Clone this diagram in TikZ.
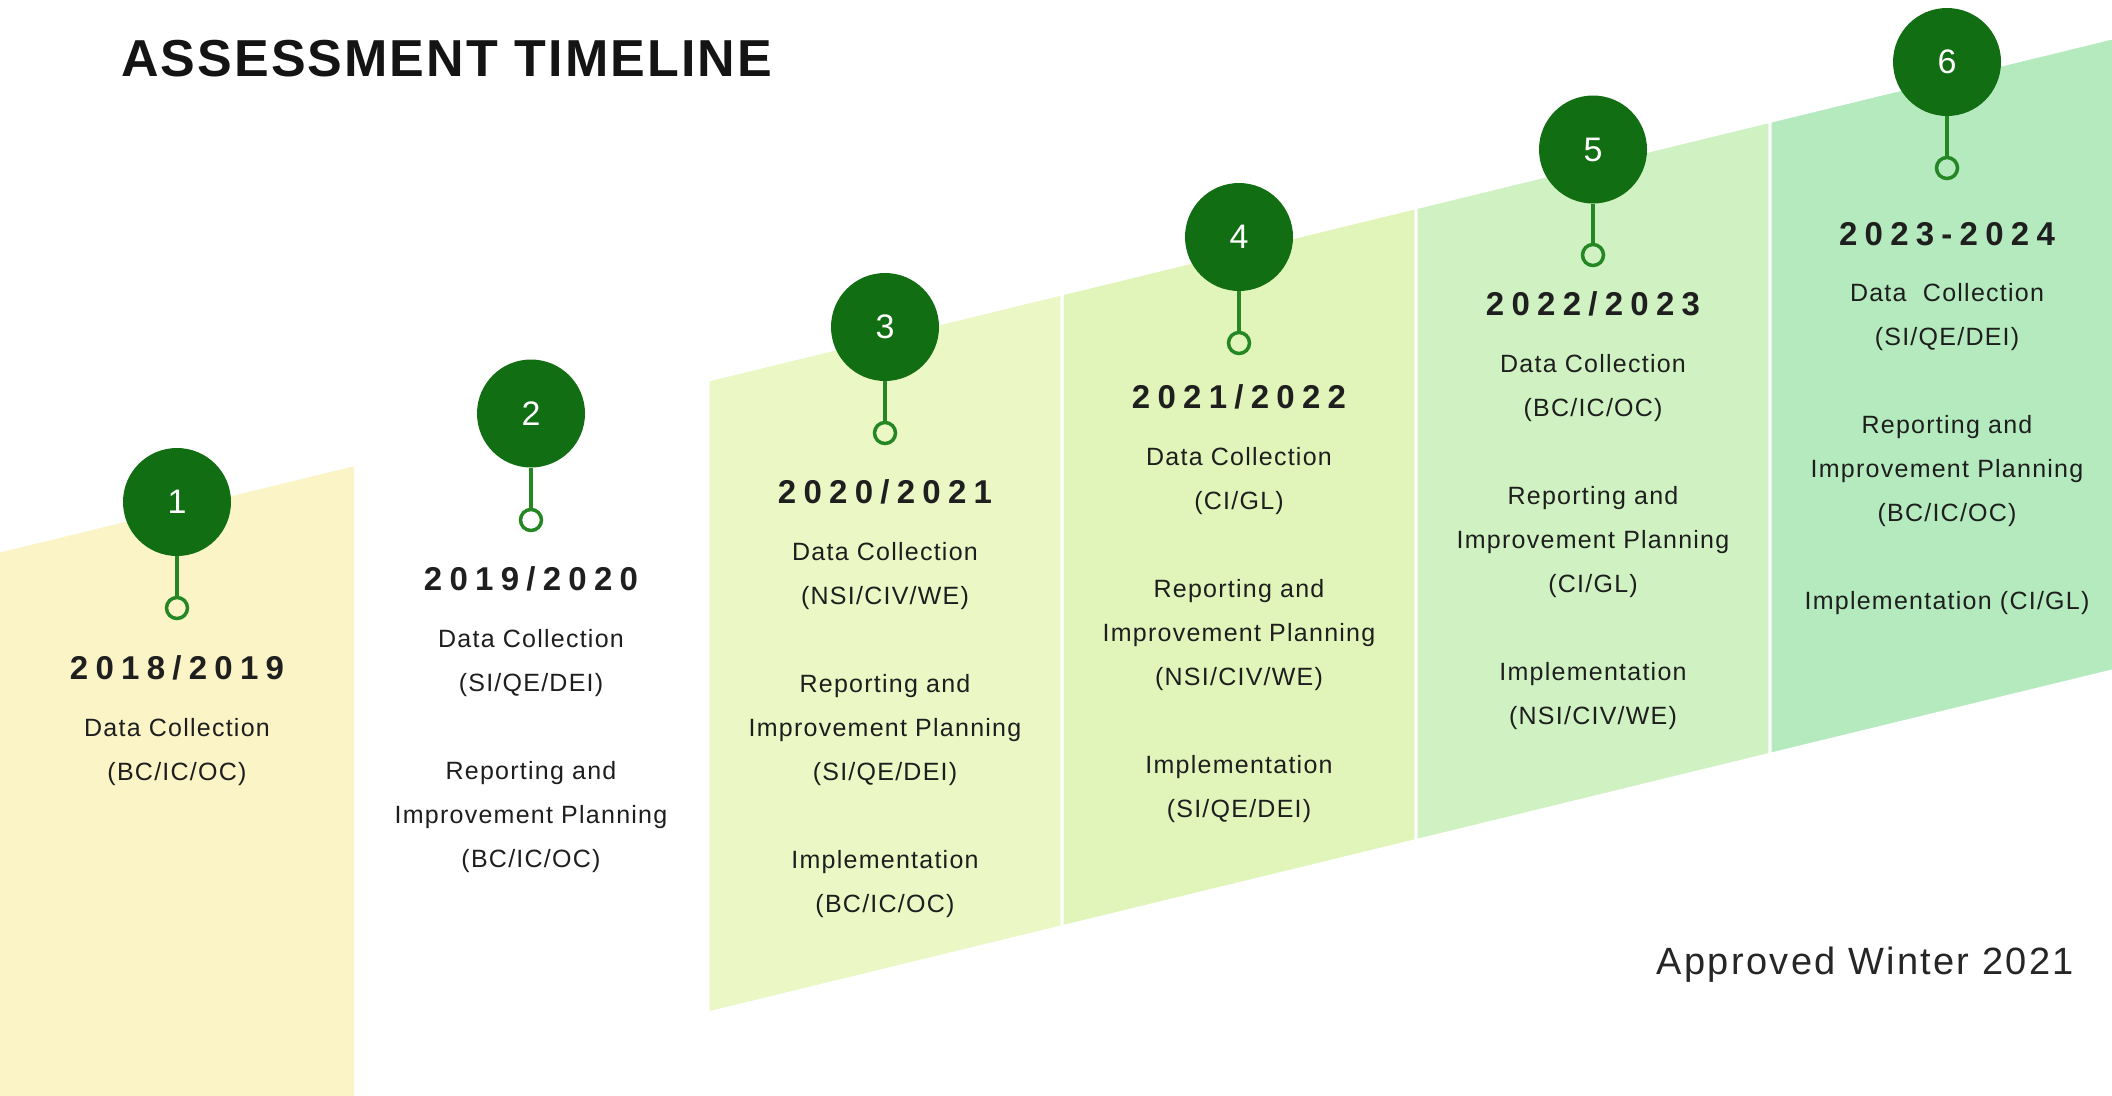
\documentclass[tikz,border=0pt]{standalone}
\usepackage{fontspec}
\setmainfont{Liberation Sans}
\newfontfamily\bodyface[LetterSpace=5]{Liberation Sans}
\newfontfamily\yearface[LetterSpace=22]{Liberation Sans}
\newfontfamily\titleface[LetterSpace=4]{Liberation Sans}
\newfontfamily\noteface[LetterSpace=6]{Liberation Sans}
\usetikzlibrary{positioning}

\definecolor{panA}{RGB}{250,244,198}
\definecolor{panC}{RGB}{235,247,197}
\definecolor{panD}{RGB}{225,245,186}
\definecolor{panE}{RGB}{208,242,194}
\definecolor{panF}{RGB}{180,234,190}
\definecolor{dotgreen}{RGB}{18,110,18}
\definecolor{stemgreen}{RGB}{36,135,36}
\definecolor{inkgray}{RGB}{30,30,30}

\tikzset{
  num/.style={circle, fill=dotgreen, minimum size=108pt, inner sep=0pt, text=white, font=\fontsize{34}{34}\selectfont},
  ring/.style={circle, draw=stemgreen, line width=3.5pt, minimum size=21pt, inner sep=0pt},
  stem/.style={stemgreen, line width=4pt},
  year/.style={inner sep=0pt, text=black!88, font=\yearface\bfseries\fontsize{33}{33}\selectfont},
  body/.style={inner sep=0pt, align=center, text=inkgray, font=\bodyface\fontsize{25}{44}\selectfont},
  panel/.style={draw=white, line width=3pt},
}

\begin{document}
\begin{tikzpicture}[x=1pt,y=-1pt]
\useasboundingbox (0,0) rectangle (2112,1095);
\fill [white] (0,0) rectangle (2112,1095);
\clip (0,0) rectangle (2112,1095);

% slanted panels
\fill [panA] (0,552.5) -- (354,466.3) -- (354,1100) -- (0,1100) -- cycle;
\filldraw [panel, fill=panC] (708,380) -- (1062,293.8) -- (1062,926.8) -- (708,1013) -- cycle;
\filldraw [panel, fill=panD] (1062,293.8) -- (1416,207.6) -- (1416,840.6) -- (1062,926.8) -- cycle;
\filldraw [panel, fill=panE] (1416,207.6) -- (1770,121.3) -- (1770,754.3) -- (1416,840.6) -- cycle;
\filldraw [panel, fill=panF] (1770,121.3) -- (2124,35.1) -- (2124,668.1) -- (1770,754.3) -- cycle;

\node [inner sep=0pt, anchor=west, text=black!92, font=\titleface\bfseries\fontsize{52}{52}\selectfont] (ttl) at (121,59) {ASSESSMENT TIMELINE};

% 1
\node [num] (c1) at (177,502) {1};
\node [ring] (r1) at (177,608) {};
\draw [stem] (c1) -- (r1);
\node [year, anchor=base] (y1) at (177,679) {2018/2019};
\node [body, below=38pt of y1] (b1) {Data Collection\\(BC/IC/OC)};

% 2
\node [num] (c2) at (531,413.5) {2};
\node [ring] (r2) at (531,520) {};
\draw [stem] (c2) -- (r2);
\node [year, anchor=base] (y2) at (531,590) {2019/2020};
\node [body, below=38pt of y2] (b2) {Data Collection\\(SI/QE/DEI)\\[44pt]Reporting and\\Improvement Planning\\(BC/IC/OC)};

% 3
\node [num] (c3) at (885,327) {3};
\node [ring] (r3) at (885,433) {};
\draw [stem] (c3) -- (r3);
\node [year, anchor=base] (y3) at (885,503.6) {2020/2021};
\node [body, below=38pt of y3] (b3) {Data Collection\\(NSI/CIV/WE)\\[44pt]Reporting and\\Improvement Planning\\(SI/QE/DEI)\\[44pt]Implementation\\(BC/IC/OC)};

% 4
\node [num] (c4) at (1239,237) {4};
\node [ring] (r4) at (1239,343) {};
\draw [stem] (c4) -- (r4);
\node [year, anchor=base] (y4) at (1239,408) {2021/2022};
\node [body, below=38pt of y4] (b4) {Data Collection\\(CI/GL)\\[44pt]Reporting and\\Improvement Planning\\(NSI/CIV/WE)\\[44pt]Implementation\\(SI/QE/DEI)};

% 5
\node [num] (c5) at (1593,149.5) {5};
\node [ring] (r5) at (1593,255) {};
\draw [stem] (c5) -- (r5);
\node [year, anchor=base] (y5) at (1593,315) {2022/2023};
\node [body, below=38pt of y5] (b5) {Data Collection\\(BC/IC/OC)\\[44pt]Reporting and\\Improvement Planning\\(CI/GL)\\[44pt]Implementation\\(NSI/CIV/WE)};

% 6
\node [num] (c6) at (1947,62) {6};
\node [ring] (r6) at (1947,168) {};
\draw [stem] (c6) -- (r6);
\node [year, anchor=base] (y6) at (1947,245) {2023-2024};
\node [body, below=38pt of y6] (b6) {Data\ \ Collection\\(SI/QE/DEI)\\[44pt]Reporting and\\Improvement Planning\\(BC/IC/OC)\\[44pt]Implementation (CI/GL)};

\node [inner sep=0pt, anchor=base east, text=black!85, font=\noteface\fontsize{38}{38}\selectfont] (appr) at (2074,974) {Approved Winter 2021};
\end{tikzpicture}
\end{document}
